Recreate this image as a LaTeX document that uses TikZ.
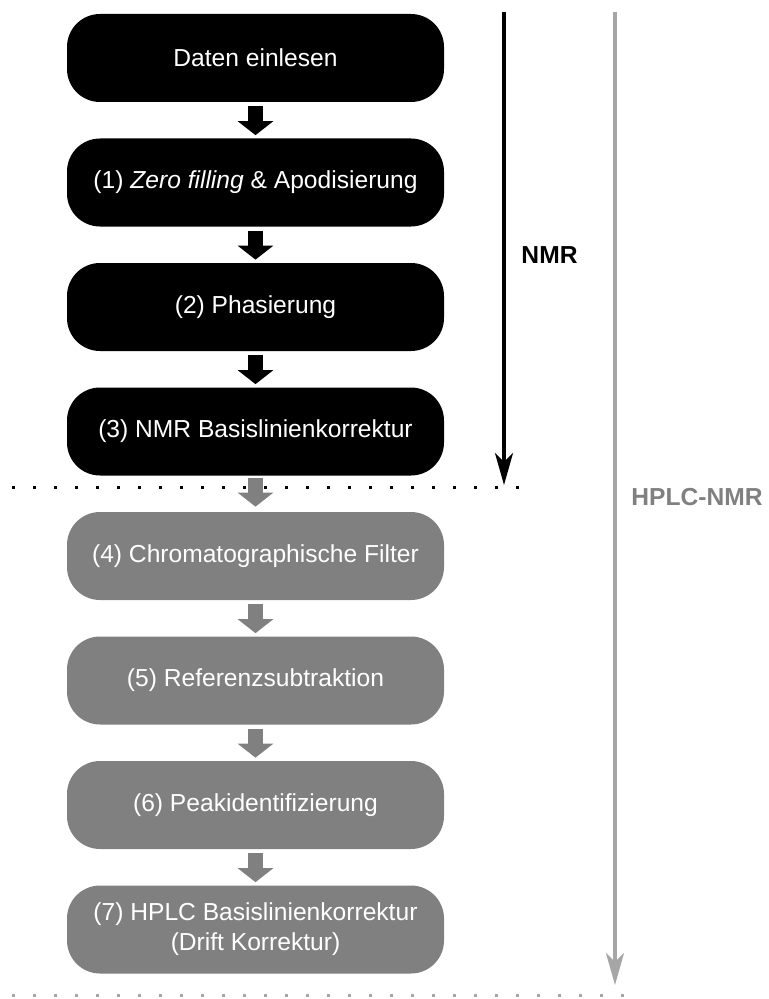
\documentclass[tikz,border=0pt]{standalone}
\usepackage{fontspec}
\setmainfont{Liberation Sans}
\usetikzlibrary{arrows.meta}
\definecolor{stepgray}{HTML}{808080}
\definecolor{linegray}{HTML}{A6A6A6}

\begin{document}
\begin{tikzpicture}[node distance=2.49cm]

\tikzstyle{nmrbox} = [rectangle, rounded corners=0.66cm, minimum width=7.54cm, minimum height=1.76cm, text centered, align=center, fill=black, text=white, font=\fontsize{14}{17}\selectfont]
\tikzstyle{hplcbox} = [nmrbox, fill=stepgray]
\tikzstyle{blockarrow} = [line width=0.3cm, -{Triangle[length=0.28cm, width=0.7cm]}]
\tikzstyle{sidearrow} = [line width=2pt, -{Stealth[length=0.64cm, width=0.36cm, inset=0.18cm]}]
\tikzstyle{sep} = [line width=0.06cm, dash pattern=on 0.06cm off 0.36cm]
\tikzstyle{side} = [font=\fontsize{14}{17}\selectfont\bfseries]

\useasboundingbox (0,0) rectangle (15.36,-19.98);

% Define nodes
\node (read) [nmrbox] at (5.11,-1.16) {Daten einlesen};
\node (zerofill) [nmrbox, below of=read] {(1) \textit{Zero filling} \& Apodisierung};
\node (phase) [nmrbox, below of=zerofill] {(2) Phasierung};
\node (nmrbase) [nmrbox, below of=phase] {(3) NMR Basislinienkorrektur};
\node (chromfilter) [hplcbox, below of=nmrbase] {(4) Chromatographische Filter};
\node (refsub) [hplcbox, below of=chromfilter] {(5) Referenzsubtraktion};
\node (peakid) [hplcbox, below of=refsub] {(6) Peakidentifizierung};
\node (hplcbase) [hplcbox, below of=peakid] {(7) HPLC Basislinienkorrektur\\(Drift Korrektur)};

\node (nmrlabel) [side] at (10.99,-5.1) {NMR};
\node (hplclabel) [side, text=stepgray] at (13.94,-9.94) {HPLC-NMR};

\coordinate (nmrtop) at (10.08,-0.24);
\coordinate (nmrend) at (10.08,-9.7);
\coordinate (hplctop) at (12.3,-0.24);
\coordinate (hplcend) at (12.3,-19.7);
\coordinate (sepleft) at (0.24,-9.74);
\coordinate (sepright) at (10.4,-9.74);
\coordinate (endleft) at (0.24,-19.9);
\coordinate (endright) at (12.5,-19.9);

% Draw arrows
\draw [blockarrow] ([yshift=-0.08cm]read.south) -- ([yshift=0.06cm]zerofill.north);
\draw [blockarrow] ([yshift=-0.08cm]zerofill.south) -- ([yshift=0.06cm]phase.north);
\draw [blockarrow] ([yshift=-0.08cm]phase.south) -- ([yshift=0.06cm]nmrbase.north);
\draw [blockarrow, stepgray] ([yshift=-0.04cm]nmrbase.south) -- ([yshift=0.1cm]chromfilter.north);
\draw [blockarrow, stepgray] ([yshift=-0.08cm]chromfilter.south) -- ([yshift=0.06cm]refsub.north);
\draw [blockarrow, stepgray] ([yshift=-0.08cm]refsub.south) -- ([yshift=0.06cm]peakid.north);
\draw [blockarrow, stepgray] ([yshift=-0.08cm]peakid.south) -- ([yshift=0.06cm]hplcbase.north);

\draw [sidearrow] (nmrtop) -- (nmrend);
\draw [sidearrow, linegray] (hplctop) -- (hplcend);
\draw [sep] (sepleft) -- (sepright);
\draw [sep, linegray] (endleft) -- (endright);

\end{tikzpicture}
\end{document}
